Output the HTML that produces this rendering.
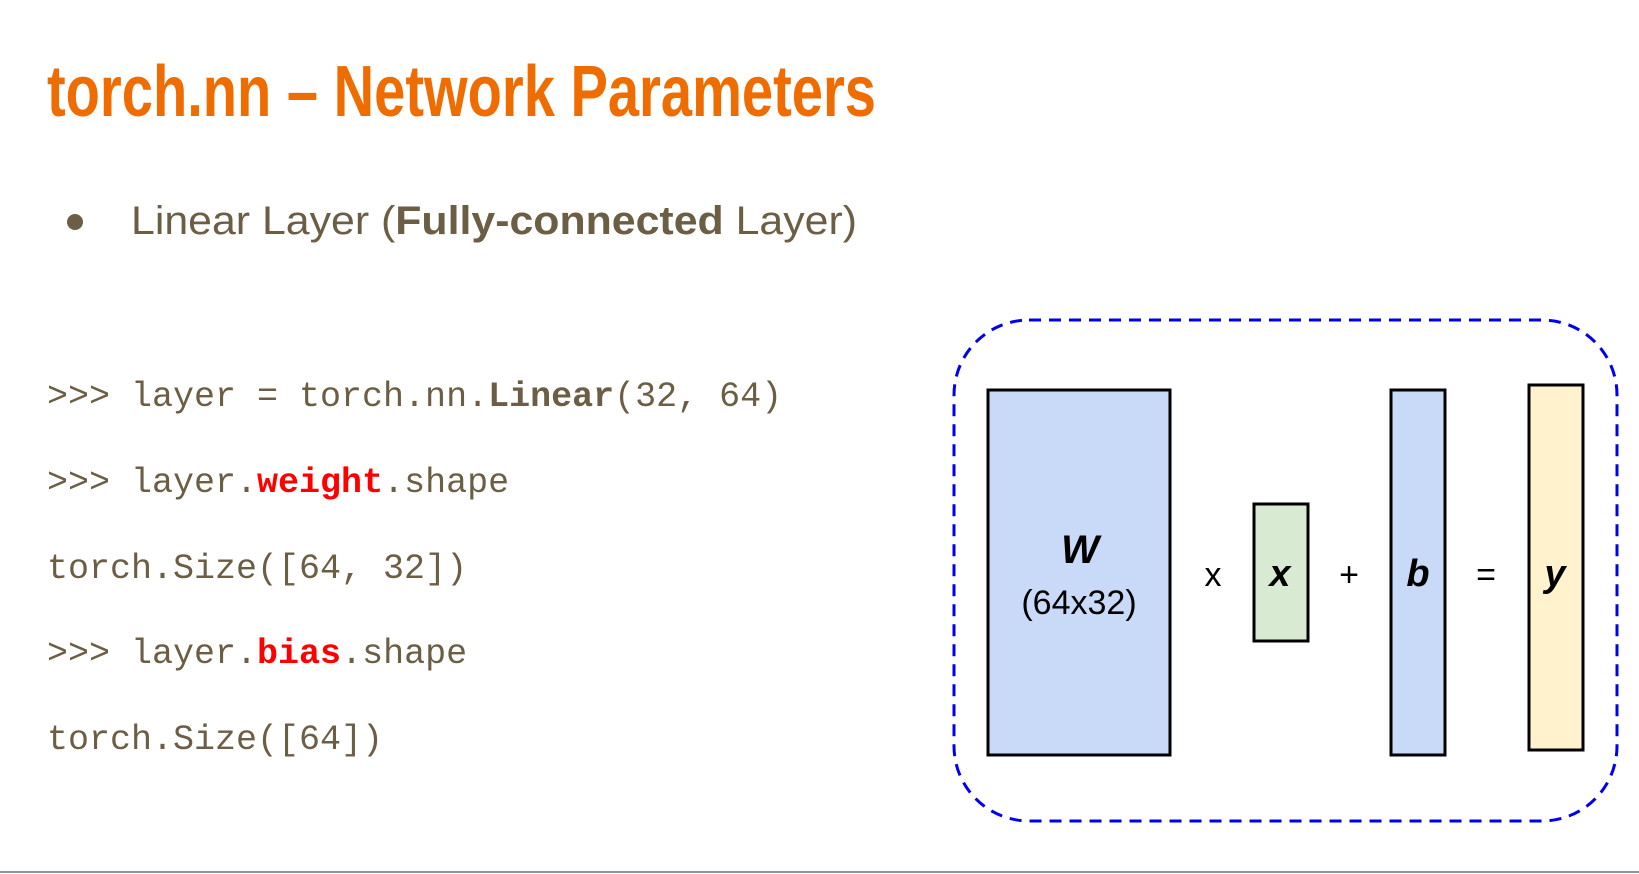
<!DOCTYPE html>
<html><head><meta charset="utf-8"><style>
html,body{margin:0;padding:0;background:#fff;}
body{width:1639px;height:874px;position:relative;overflow:hidden;}
</style></head><body>
<svg width="1639" height="874" style="position:absolute;left:0;top:0">
  <text x="47" y="116" font-family="'Liberation Sans Narrow','Liberation Sans',sans-serif" font-weight="bold" font-size="72" fill="#ef6c00" textLength="829" lengthAdjust="spacingAndGlyphs">torch.nn – Network Parameters</text>
  <circle cx="75" cy="222" r="8" fill="#6b5e45"/>
  <text x="131" y="234" font-family="'Liberation Sans',sans-serif" font-size="40" fill="#6b5e45" textLength="726" lengthAdjust="spacingAndGlyphs">Linear Layer (<tspan font-weight="bold">Fully-connected</tspan> Layer)</text>
  <g font-family="'Liberation Mono',monospace" font-size="35" fill="#6b5e45">
    <text x="47" y="406">&gt;&gt;&gt; layer = torch.nn.<tspan font-weight="bold">Linear</tspan>(32, 64)</text>
    <text x="47" y="492">&gt;&gt;&gt; layer.<tspan font-weight="bold" fill="#ff0000">weight</tspan>.shape</text>
    <text x="47" y="578">torch.Size([64, 32])</text>
    <text x="47" y="663">&gt;&gt;&gt; layer.<tspan font-weight="bold" fill="#ff0000">bias</tspan>.shape</text>
    <text x="47" y="749">torch.Size([64])</text>
  </g>
  <rect x="954" y="320" width="663" height="501" rx="75" ry="75" fill="none" stroke="#0000ee" stroke-width="3" stroke-dasharray="12,8"/>
  <rect x="988" y="390" width="182" height="365" fill="#c9daf8" stroke="#000" stroke-width="3"/>
  <rect x="1254" y="504" width="54" height="137" fill="#d9ead3" stroke="#000" stroke-width="3"/>
  <rect x="1391" y="390" width="54" height="365" fill="#c9daf8" stroke="#000" stroke-width="3"/>
  <rect x="1529" y="385" width="54" height="365" fill="#fff2cc" stroke="#000" stroke-width="3"/>
  <g font-family="'Liberation Sans',sans-serif" text-anchor="middle" fill="#000">
    <text x="1080" y="563" font-size="40" font-weight="bold" font-style="italic">W</text>
    <text x="1079" y="614" font-size="34">(64x32)</text>
    <text x="1213" y="586" font-size="34">x</text>
    <text x="1280" y="586" font-size="38" font-weight="bold" font-style="italic">x</text>
    <text x="1349" y="586" font-size="34">+</text>
    <text x="1418" y="586" font-size="38" font-weight="bold" font-style="italic">b</text>
    <text x="1486" y="586" font-size="34">=</text>
    <text x="1555" y="586" font-size="38" font-weight="bold" font-style="italic">y</text>
  </g>
  <line x1="0" y1="872" x2="1639" y2="872" stroke="#8a9a96" stroke-width="2"/>
</svg>
</body></html>
